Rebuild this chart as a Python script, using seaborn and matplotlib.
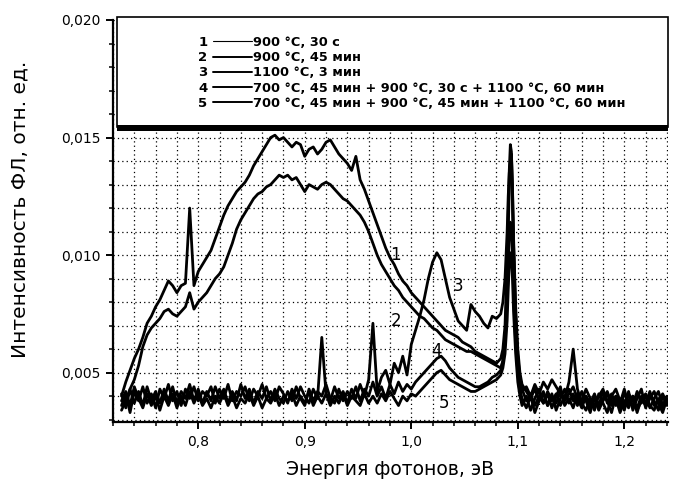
import numpy as np
import pandas as pd
import matplotlib
matplotlib.use("Agg")
import matplotlib.pyplot as plt
import seaborn as sns
from matplotlib.lines import Line2D
from matplotlib.patches import Rectangle
from matplotlib.ticker import MultipleLocator

# ---------------- data ----------------
energy = [
    0.728, 0.732, 0.736, 0.740, 0.744, 0.748, 0.752, 0.756, 0.760, 0.764,
    0.768, 0.772, 0.776, 0.780, 0.784, 0.788, 0.792, 0.796, 0.800, 0.804,
    0.808, 0.812, 0.816, 0.820, 0.824, 0.828, 0.832, 0.836, 0.840, 0.844,
    0.848, 0.852, 0.856, 0.860, 0.864, 0.868, 0.872, 0.876, 0.880, 0.884,
    0.888, 0.892, 0.896, 0.900, 0.904, 0.908, 0.912, 0.916, 0.920, 0.924,
    0.928, 0.932, 0.936, 0.940, 0.944, 0.948, 0.952, 0.956, 0.960, 0.964,
    0.968, 0.972, 0.976, 0.980, 0.984, 0.988, 0.992, 0.996, 1.000, 1.004,
    1.008, 1.012, 1.016, 1.020, 1.024, 1.028, 1.032, 1.036, 1.040, 1.044,
    1.048, 1.052, 1.056, 1.060, 1.064, 1.068, 1.072, 1.076, 1.080, 1.084,
    1.086, 1.088, 1.090, 1.091, 1.092, 1.093, 1.094, 1.095, 1.096, 1.098,
    1.100, 1.102, 1.104,
    1.108, 1.112, 1.116, 1.120, 1.124, 1.128, 1.132, 1.136, 1.140, 1.144,
    1.148, 1.152, 1.156, 1.160, 1.164, 1.168, 1.172, 1.176, 1.180, 1.184,
    1.188, 1.192, 1.196, 1.200, 1.204, 1.208, 1.212, 1.216, 1.220, 1.224,
    1.228, 1.232, 1.236, 1.240,
]

intensity_1 = [
    0.0040, 0.0046, 0.0051, 0.0056, 0.0060, 0.0065, 0.0071, 0.0074, 0.0078, 0.0081,
    0.0085, 0.0089, 0.0087, 0.0084, 0.0087, 0.0088, 0.0120, 0.0087, 0.0093, 0.0096,
    0.0099, 0.0102, 0.0107, 0.0112, 0.0117, 0.0121, 0.0124, 0.0127, 0.0129, 0.0131,
    0.0134, 0.0138, 0.0141, 0.0144, 0.0147, 0.0150, 0.0151, 0.0149, 0.0150, 0.0148,
    0.0146, 0.0148, 0.0147, 0.0142, 0.0145, 0.0146, 0.0143, 0.0145, 0.0148, 0.0149,
    0.0146, 0.0143, 0.0141, 0.0139, 0.0136, 0.0142, 0.0132, 0.0128, 0.0123, 0.0118,
    0.0113, 0.0108, 0.0103, 0.0099, 0.0096, 0.0092, 0.0089, 0.0087, 0.0084, 0.0082,
    0.0080, 0.0078, 0.0076, 0.0074, 0.0072, 0.0070, 0.0068, 0.0067, 0.0066, 0.0065,
    0.0063, 0.0062, 0.0061, 0.0059, 0.0058, 0.0057, 0.0056, 0.0055, 0.0054, 0.0056,
    0.0060, 0.0070, 0.0097, 0.0118, 0.0136, 0.0147, 0.0144, 0.0128, 0.0108, 0.0078,
    0.0060, 0.0050, 0.0045,
    0.0042, 0.0039, 0.0043, 0.0038, 0.0041, 0.0036, 0.0040, 0.0037, 0.0042, 0.0038,
    0.0041, 0.0044, 0.0039, 0.0035, 0.0040, 0.0037, 0.0041, 0.0036, 0.0039, 0.0042,
    0.0037, 0.0040, 0.0035, 0.0041, 0.0038, 0.0036, 0.0042, 0.0037, 0.0040, 0.0035,
    0.0039, 0.0042, 0.0036, 0.0040,
]

intensity_2 = [
    0.0034, 0.0038, 0.0043, 0.0047, 0.0053, 0.0061, 0.0066, 0.0069, 0.0071, 0.0073,
    0.0076, 0.0077, 0.0075, 0.0074, 0.0076, 0.0078, 0.0084, 0.0077, 0.0080, 0.0082,
    0.0084, 0.0087, 0.0090, 0.0092, 0.0095, 0.0100, 0.0105, 0.0111, 0.0115, 0.0118,
    0.0121, 0.0124, 0.0126, 0.0127, 0.0129, 0.0130, 0.0132, 0.0134, 0.0133, 0.0134,
    0.0132, 0.0133, 0.0130, 0.0127, 0.0130, 0.0129, 0.0128, 0.0130, 0.0131, 0.0130,
    0.0128, 0.0126, 0.0124, 0.0123, 0.0121, 0.0119, 0.0117, 0.0114, 0.0110, 0.0105,
    0.0100, 0.0096, 0.0093, 0.0090, 0.0087, 0.0085, 0.0082, 0.0080, 0.0078, 0.0076,
    0.0074, 0.0073, 0.0071, 0.0069, 0.0068, 0.0066, 0.0064, 0.0063, 0.0062, 0.0061,
    0.0060, 0.0059, 0.0059, 0.0058, 0.0057, 0.0056, 0.0055, 0.0054, 0.0053, 0.0052,
    0.0055, 0.0063, 0.0088, 0.0110, 0.0128, 0.0140, 0.0143, 0.0130, 0.0105, 0.0074,
    0.0057, 0.0048, 0.0043,
    0.0038, 0.0041, 0.0036, 0.0040, 0.0037, 0.0042, 0.0038, 0.0041, 0.0036, 0.0040,
    0.0043, 0.0038, 0.0041, 0.0037, 0.0034, 0.0039, 0.0036, 0.0040, 0.0043, 0.0037,
    0.0041, 0.0036, 0.0039, 0.0034, 0.0041, 0.0038, 0.0035, 0.0040, 0.0037, 0.0042,
    0.0036, 0.0038, 0.0041, 0.0037,
]

intensity_3 = [
    0.0036, 0.0041, 0.0033, 0.0042, 0.0038, 0.0044, 0.0037, 0.0041, 0.0035, 0.0043,
    0.0039, 0.0045, 0.0038, 0.0042, 0.0036, 0.0043, 0.0039, 0.0044, 0.0038, 0.0042,
    0.0040, 0.0044, 0.0037, 0.0043, 0.0039, 0.0045, 0.0038, 0.0042, 0.0040, 0.0044,
    0.0038, 0.0043, 0.0040, 0.0045, 0.0039, 0.0042, 0.0038, 0.0044, 0.0041, 0.0037,
    0.0043, 0.0039, 0.0044, 0.0040, 0.0037, 0.0043, 0.0039, 0.0065, 0.0041, 0.0038,
    0.0044, 0.0039, 0.0042, 0.0037, 0.0043, 0.0039, 0.0045, 0.0040, 0.0047, 0.0071,
    0.0042, 0.0048, 0.0051, 0.0045, 0.0054, 0.0050, 0.0057, 0.0049, 0.0062, 0.0068,
    0.0074, 0.0081, 0.0090, 0.0097, 0.0101, 0.0098, 0.0090, 0.0082, 0.0077, 0.0072,
    0.0070, 0.0068, 0.0079, 0.0076, 0.0074, 0.0071, 0.0069, 0.0074, 0.0073, 0.0075,
    0.0080, 0.0090, 0.0110, 0.0125, 0.0135, 0.0139, 0.0136, 0.0122, 0.0102, 0.0072,
    0.0055, 0.0046, 0.0042,
    0.0044, 0.0040, 0.0045, 0.0041, 0.0046, 0.0043, 0.0047, 0.0044, 0.0041, 0.0039,
    0.0046, 0.0060, 0.0043, 0.0037, 0.0040, 0.0035, 0.0039, 0.0034, 0.0038, 0.0041,
    0.0036, 0.0039, 0.0033, 0.0038, 0.0035, 0.0040, 0.0034, 0.0038, 0.0041, 0.0036,
    0.0034, 0.0039, 0.0035, 0.0038,
]

intensity_4 = [
    0.0041, 0.0035, 0.0043, 0.0037, 0.0042, 0.0036, 0.0044, 0.0038, 0.0042, 0.0037,
    0.0043, 0.0038, 0.0044, 0.0037, 0.0042, 0.0039, 0.0045, 0.0038, 0.0043, 0.0037,
    0.0042, 0.0038, 0.0044, 0.0039, 0.0043, 0.0037, 0.0042, 0.0038, 0.0045, 0.0039,
    0.0043, 0.0037, 0.0042, 0.0039, 0.0044, 0.0038, 0.0043, 0.0039, 0.0037, 0.0042,
    0.0038, 0.0044, 0.0039, 0.0036, 0.0043, 0.0038, 0.0042, 0.0040, 0.0045, 0.0039,
    0.0037, 0.0043, 0.0038, 0.0042, 0.0039, 0.0044, 0.0038, 0.0043, 0.0040, 0.0046,
    0.0040, 0.0044, 0.0039, 0.0045, 0.0041, 0.0046, 0.0042, 0.0045, 0.0043, 0.0046,
    0.0048, 0.0050, 0.0052, 0.0054, 0.0056, 0.0057, 0.0055, 0.0052, 0.0050, 0.0048,
    0.0047, 0.0046, 0.0045, 0.0044, 0.0044, 0.0045, 0.0046, 0.0048, 0.0049, 0.0051,
    0.0055, 0.0062, 0.0080, 0.0095, 0.0108, 0.0114, 0.0112, 0.0100, 0.0085, 0.0062,
    0.0050, 0.0043, 0.0039,
    0.0035, 0.0040, 0.0033, 0.0038, 0.0042, 0.0036, 0.0041, 0.0034, 0.0039, 0.0043,
    0.0037, 0.0041, 0.0036, 0.0042, 0.0038, 0.0033, 0.0040, 0.0036, 0.0042, 0.0038,
    0.0033, 0.0040, 0.0037, 0.0043, 0.0036, 0.0040, 0.0033, 0.0039, 0.0036, 0.0041,
    0.0038, 0.0034, 0.0040, 0.0036,
]

intensity_5 = [
    0.0038, 0.0042, 0.0036, 0.0044, 0.0039, 0.0035, 0.0041, 0.0036, 0.0040, 0.0034,
    0.0040, 0.0036, 0.0041, 0.0035, 0.0040, 0.0036, 0.0042, 0.0037, 0.0041, 0.0036,
    0.0039, 0.0035, 0.0040, 0.0037, 0.0041, 0.0036, 0.0040, 0.0035, 0.0039, 0.0037,
    0.0041, 0.0036, 0.0040, 0.0035, 0.0039, 0.0037, 0.0041, 0.0036, 0.0040, 0.0038,
    0.0041, 0.0036, 0.0040, 0.0037, 0.0042, 0.0036, 0.0040, 0.0037, 0.0041, 0.0036,
    0.0040, 0.0037, 0.0041, 0.0036, 0.0040, 0.0038, 0.0036, 0.0041, 0.0037, 0.0040,
    0.0037, 0.0041, 0.0038, 0.0042, 0.0039, 0.0036, 0.0040, 0.0038, 0.0041, 0.0040,
    0.0042, 0.0044, 0.0046, 0.0048, 0.0050, 0.0051, 0.0049, 0.0047, 0.0046, 0.0045,
    0.0044, 0.0043, 0.0042, 0.0042, 0.0043, 0.0044, 0.0045, 0.0046, 0.0047, 0.0049,
    0.0052, 0.0058, 0.0072, 0.0085, 0.0096, 0.0101, 0.0099, 0.0090, 0.0076, 0.0058,
    0.0046, 0.0040, 0.0036,
    0.0040, 0.0034, 0.0039, 0.0043, 0.0037, 0.0041, 0.0035, 0.0040, 0.0044, 0.0036,
    0.0039, 0.0035, 0.0041, 0.0038, 0.0043, 0.0039, 0.0034, 0.0041, 0.0037, 0.0033,
    0.0040, 0.0043, 0.0038, 0.0036, 0.0042, 0.0034, 0.0039, 0.0043, 0.0035, 0.0039,
    0.0042, 0.0037, 0.0033, 0.0039,
]

curve_ids = ["1", "2", "3", "4", "5"]
legend_labels = [
    "900 °C, 30 с",
    "900 °C, 45 мин",
    "1100 °C, 3 мин",
    "700 °C, 45 мин + 900 °C, 30 с + 1100 °C, 60 мин",
    "700 °C, 45 мин + 900 °C, 45 мин + 1100 °C, 60 мин",
]
x_ticks = [0.8, 0.9, 1.0, 1.1, 1.2]
x_tick_labels = ["0,8", "0,9", "1,0", "1,1", "1,2"]
y_ticks = [0.005, 0.010, 0.015, 0.020]
y_tick_labels = ["0,005", "0,010", "0,015", "0,020"]
x_label = "Энергия фотонов, эВ"
y_label = "Интенсивность ФЛ, отн. ед."

# ---------------- plotting ----------------
sns.set_theme(style="white")
plt.rcParams["font.family"] = ["DejaVu Sans"]

W, H = 675, 483
fig = plt.figure(figsize=(W / 100, H / 100), dpi=100)
ax = fig.add_axes([113 / W, 61 / H, 555 / W, 402 / H])

all_series = [intensity_1, intensity_2, intensity_3, intensity_4, intensity_5]
df = pd.concat(
    [pd.DataFrame({"E": energy, "I": vals, "curve": cid})
     for cid, vals in zip(curve_ids, all_series)],
    ignore_index=True,
)
sns.lineplot(data=df, x="E", y="I", hue="curve", palette=["black"] * 5,
             legend=False, estimator=None, sort=False, linewidth=2.0, ax=ax)

ax.set_xlim(0.72, 1.241)
ax.set_ylim(0.0029, 0.020)
ax.set_xticks(x_ticks)
ax.set_xticklabels(x_tick_labels)
ax.set_yticks(y_ticks)
ax.set_yticklabels(y_tick_labels)
ax.xaxis.set_minor_locator(MultipleLocator(0.02))
ax.yaxis.set_minor_locator(MultipleLocator(0.001))
ax.grid(which="both", color="black", linestyle=(0, (1, 2.5)), linewidth=0.9)
ax.set_axisbelow(True)

for s in ["top", "right"]:
    ax.spines[s].set_visible(False)
for s in ["left", "bottom"]:
    ax.spines[s].set_color("black")
    ax.spines[s].set_linewidth(1.6)

ax.tick_params(which="major", direction="out", length=5, width=1.4, color="black",
               labelsize=10, labelcolor="black", bottom=True, left=True, pad=4)
ax.tick_params(which="minor", direction="out", length=3, width=1.1, color="black",
               bottom=True, left=True)

ax.set_xlabel(x_label, fontsize=13.5, color="black", labelpad=8)
ax.set_ylabel(y_label, fontsize=14.5, color="black")
ax.yaxis.set_label_coords(-0.15, 0.53)

# curve labels
for txt, (xe, yi) in zip(curve_ids, [(0.985, 0.0100), (0.986, 0.0072), (1.044, 0.0087),
                                     (1.024, 0.0059), (1.031, 0.0037)]):
    ax.text(xe, yi, txt, fontsize=12, color="black", ha="center", va="center",
            zorder=4)

# legend frame
ax.add_patch(Rectangle((4 / 555, (422 - 127) / 402), 551 / 555, (127 - 17) / 402,
                       transform=ax.transAxes, facecolor="white", edgecolor="black",
                       linewidth=1.2, zorder=5, clip_on=False))
ax.add_patch(Rectangle((4 / 555, (422 - 131) / 402), 551 / 555, 6 / 402,
                       transform=ax.transAxes, facecolor="black", edgecolor="none",
                       zorder=5.5, clip_on=False))

handles = [Line2D([], [], color="black", linewidth=(0.8 if i == 0 else 1.4))
           for i in range(5)]
leg = ax.legend(handles, legend_labels, loc="upper left",
                bbox_to_anchor=((213 - 113) / 555, (422 - 36) / 402),
                frameon=False, borderpad=0, borderaxespad=0,
                handlelength=3.0, handletextpad=0.1, labelspacing=0.17,
                prop={"weight": "bold", "size": 9.3})
leg.set_zorder(6)
for t in leg.get_texts():
    t.set_color("black")

fig.canvas.draw()
for cid, t in zip(curve_ids, leg.get_texts()):
    bb = t.get_window_extent()
    yc = (bb.y0 + bb.y1) / 2
    _, ya = ax.transAxes.inverted().transform((0, yc))
    ax.text((203 - 113) / 555, ya, cid, transform=ax.transAxes, ha="center",
            va="center", fontsize=9.5, fontweight="bold", color="black", zorder=7)

fig.savefig("out.png", dpi=100, facecolor="white")
